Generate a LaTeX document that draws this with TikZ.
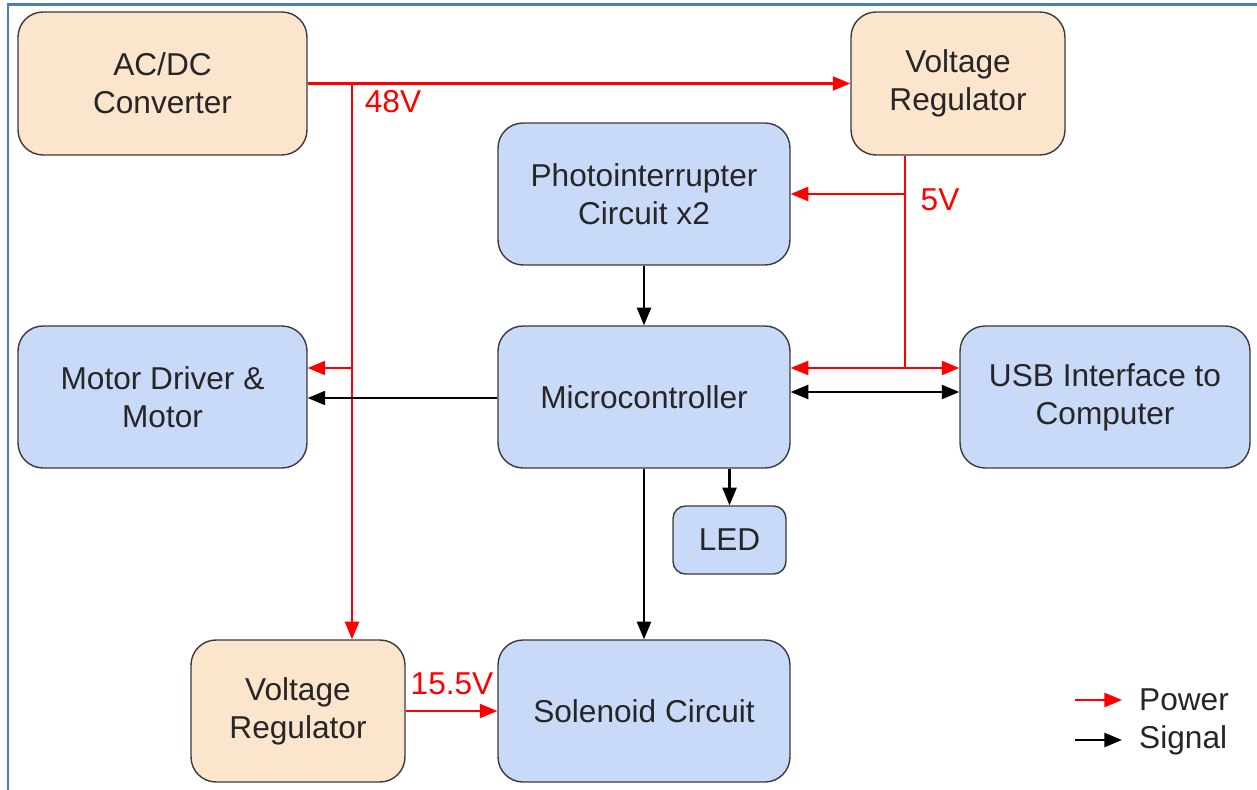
\documentclass[tikz,border=0pt]{standalone}
\usepackage{fontspec}
\setmainfont{Liberation Sans}
\usetikzlibrary{arrows.meta}
\definecolor{pwrfill}{HTML}{FCE5CD}
\definecolor{sigfill}{HTML}{C9DAF8}
\definecolor{framecol}{HTML}{4A7EBB}
\definecolor{edgecol}{HTML}{3A3A3A}

\tikzset{
  blk/.style={draw=edgecol, line width=0.8pt, rounded corners=0.5cm, align=center,
    inner sep=0pt, text=black!85, font=\fontsize{18}{21.5}\selectfont},
  pwrbox/.style={blk, fill=pwrfill},
  sigbox/.style={blk, fill=sigfill},
  pwr/.style={draw=red, line width=1.2pt, -{Triangle[length=10pt,width=8pt]}},
  sig/.style={draw=black, line width=1.2pt, -{Triangle[length=10pt,width=8pt]}},
  volt/.style={text=red, font=\fontsize{18}{21.5}\selectfont},
  lgd/.style={anchor=west, text=black!85, font=\fontsize{18}{21.5}\selectfont}
}

\begin{document}
\begin{tikzpicture}[x=0.02cm,y=-0.02cm]
  \useasboundingbox (0,0) rectangle (1257,790);
  \draw[framecol, line width=0.06cm] (8,790) -- (8,5) -- (1257,5);

  % power blocks
  \node[pwrbox, minimum width=5.78cm, minimum height=2.86cm] (acdc) at (162.5,83.5) {AC/DC\\Converter};
  \node[pwrbox, minimum width=4.28cm, minimum height=2.86cm] (regtop) at (958,83.5) {Voltage\\Regulator};
  \node[pwrbox, minimum width=4.28cm, minimum height=2.84cm] (regbot) at (298,711) {Voltage\\Regulator};

  % signal blocks
  \node[sigbox, minimum width=5.84cm, minimum height=2.84cm] (photo) at (644,194) {Photointerrupter\\Circuit x2};
  \node[sigbox, minimum width=5.84cm, minimum height=2.84cm] (mcu) at (644,397) {Microcontroller};
  \node[sigbox, minimum width=5.78cm, minimum height=2.84cm] (motor) at (162.5,397) {Motor Driver \&\\Motor};
  \node[sigbox, minimum width=5.80cm, minimum height=2.84cm] (usb) at (1105,397) {USB Interface to\\Computer};
  \node[sigbox, minimum width=2.26cm, minimum height=1.36cm, rounded corners=0.25cm] (led) at (729.5,540) {LED};
  \node[sigbox, minimum width=5.84cm, minimum height=2.84cm] (sol) at (644,711) {Solenoid Circuit};

  % junctions
  \coordinate (j48) at (352,83.5);
  \coordinate (j48m) at (352,368);
  \coordinate (j5) at (905,194);
  \coordinate (j5m) at (905,368);

  % power lines
  \draw[pwr] (acdc.east) -- (regtop.west);
  \draw[pwr] (j48) -- (j48 |- regbot.north);
  \draw[pwr] (j48m) -- (motor.east |- j48m);
  \draw[red, line width=1.2pt] (j5 |- regtop.south) -- (j5m);
  \draw[pwr] (j5) -- (photo.east |- j5);
  \draw[pwr] (j5m) -- (mcu.east |- j5m);
  \draw[pwr] (j5m) -- (usb.west |- j5m);
  \draw[pwr] (regbot.east) -- (sol.west);
  \node[volt] (v48) at (393,102) {48V};
  \node[volt] (v5) at (940,200) {5V};
  \node[volt] (v15) at (452,684) {15.5V};

  % signal lines
  \draw[sig] (photo.south) -- (mcu.north);
  \draw[sig] (mcu.west |- 0,398) -- (motor.east |- 0,398);
  \draw[sig, {Triangle[length=10pt,width=8pt]}-{Triangle[length=10pt,width=8pt]}] (mcu.east |- 0,392) -- (usb.west |- 0,392);
  \draw[sig] (mcu.south) -- (sol.north);
  \draw[sig] (led.north |- mcu.south) -- (led.north);

  % legend
  \coordinate (lp1) at (1075,700);
  \coordinate (lp2) at (1122,700);
  \coordinate (ls1) at (1075,740);
  \coordinate (ls2) at (1122,740);
  \draw[pwr] (lp1) -- (lp2);
  \draw[sig] (ls1) -- (ls2);
  \node[lgd] (lpwr) at (1133,700) {Power};
  \node[lgd] (lsig) at (1133,740) {Signal};
\end{tikzpicture}
\end{document}
